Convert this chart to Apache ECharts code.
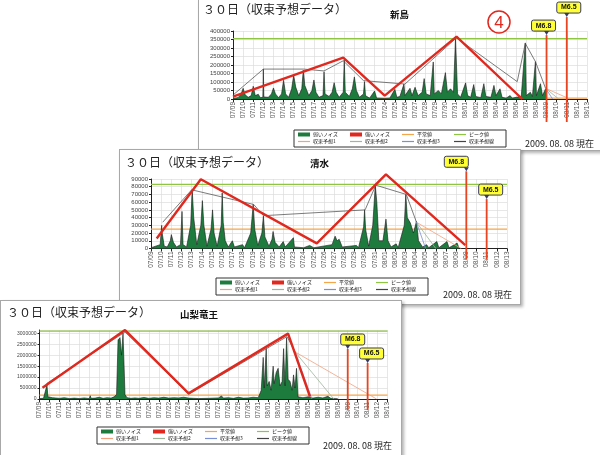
<!DOCTYPE html>
<html>
<head>
<meta charset="utf-8">
<script src="https://cdn.jsdelivr.net/npm/echarts@6/dist/echarts.min.js"></script>
<style>
body { margin: 0; width: 600px; height: 455px; overflow: hidden; background: #fff; position: relative; }
.panel { position: absolute; background: #fff; border: 1px solid #a8a8a8; box-shadow: 2px 2px 3px rgba(0,0,0,0.3); }
</style>
</head>
<body>
<div id="p1" class="panel" style="left:198px;top:-1px;width:404px;height:150px;z-index:1"></div>
<div id="p2" class="panel" style="left:119px;top:149px;width:400px;height:154px;z-index:2"></div>
<div id="p3" class="panel" style="left:0px;top:300px;width:400px;height:160px;z-index:3"></div>
<script>
const dates = ['07/09','07/10','07/11','07/12','07/13','07/14','07/15','07/16','07/17','07/18','07/19','07/20',
  '07/21','07/22','07/23','07/24','07/25','07/26','07/27','07/28','07/29','07/30','07/31','08/01','08/02',
  '08/03','08/04','08/05','08/06','08/07','08/08','08/09','08/10','08/11','08/12','08/13'];

const legendNames = ['弱いノイズ','強いノイズ','平常値','ピーク値','収束予想1','収束予想2','収束予想3','収束予想線'];
const quakeDays = [31, 33];
const quakeLabels = ['M6.8', 'M6.5'];

// 新島
const niijimaNoise = [[0,3000],[0.5,8000],[0.8,30000],[1.0,63000],[1.2,25000],[1.5,10000],[1.8,20000],[2.0,75000],
  [2.2,20000],[2.5,28000],[2.7,8000],[2.95,10000],[3.0,176000],[3.05,12000],[3.5,10000],[3.8,30000],[4.0,65000],
  [4.2,30000],[4.5,8000],[4.8,30000],[5.0,110000],[5.2,30000],[5.5,10000],[5.8,60000],[6.0,140000],[6.2,70000],
  [6.5,20000],[6.8,60000],[6.95,170000],[7.1,80000],[7.3,50000],[7.5,20000],[7.8,50000],[8.0,112000],[8.2,40000],
  [8.5,10000],[8.9,20000],[9.0,160000],[9.1,30000],[9.5,15000],[9.8,40000],[10.0,96000],[10.2,40000],[10.5,10000],
  [10.9,40000],[11.0,230000],[11.1,40000],[11.5,15000],[11.8,60000],[12.0,130000],[12.2,50000],[12.5,10000],
  [12.9,30000],[13.0,102000],[13.1,20000],[13.5,5000],[14.0,47000],[14.2,5000],[15.0,3000],[15.5,5000],[16.0,57000],
  [16.2,10000],[16.5,15000],[16.9,88000],[17.0,20000],[17.5,63000],[17.7,20000],[18.0,69000],[18.3,20000],
  [18.7,40000],[18.9,120000],[19.1,30000],[19.5,20000],[19.8,218000],[19.9,30000],[20.3,50000],[20.6,30000],
  [21.0,155000],[21.2,40000],[21.5,60000],[21.8,40000],[22.0,360000],[22.2,30000],[22.5,10000],[23.0,95000],
  [23.2,20000],[23.5,10000],[23.8,85000],[24.0,15000],[24.5,8000],[24.8,90000],[25.0,15000],[25.5,10000],
  [25.8,80000],[26.0,20000],[26.4,60000],[26.6,10000],[27.0,5000],[27.4,20000],[27.6,5000],[28.0,10000],
  [28.5,15000],[28.9,330000],[29.0,20000],[29.4,40000],[29.6,15000],[29.9,220000],[30.0,20000],[30.4,90000],
  [30.6,20000],[30.9,60000],[31.0,0]];
const niijimaTrend = [[0,23000],[3,176000],[7,176000],[9,165000],[10.9,225000],[12.9,108000],[17,88000],
  [22.1,360000],[28.1,102000],[28.9,327000],[29.9,220000],[30.9,63000]];
const niijimaRed = [[0,14000],[10.9,243000],[15,20000],[22.1,367000],[28.6,0]];
const niijimaFan1 = [[30.9,63000],[33.3,0]];
const niijimaFan2 = [[30.9,63000],[32.2,0]];
const niijimaFan3 = [[30.9,63000],[31.6,0]];

// 清水
const shimizuNoise = [[0,1000],[0.9,5000],[1.05,30000],[1.1,20000],[1.3,3000],[1.6,2000],[1.9,10000],[2.0,18000],
  [2.2,8000],[2.5,2000],[2.9,5000],[3.05,48000],[3.15,5000],[3.5,2000],[3.9,30000],[4.05,76000],[4.2,40000],
  [4.5,5000],[4.9,30000],[5.05,62000],[5.2,30000],[5.5,3000],[5.9,25000],[6.05,50000],[6.2,20000],[6.5,3000],
  [6.9,30000],[7.0,72000],[7.1,34000],[7.3,10000],[7.6,2000],[8.0,10000],[8.2,2000],[9.0,5000],[9.2,1000],
  [9.8,20000],[10.05,57000],[10.2,25000],[10.5,4000],[10.9,20000],[11.05,42000],[11.2,15000],[11.6,3000],
  [11.9,12000],[12.0,22000],[12.2,8000],[12.6,2000],[13.0,9000],[13.2,2000],[14.0,14000],[14.1,2000],[15.0,1000],
  [15.6,4000],[16,1000],[17.8,5000],[18.1,16000],[18.3,10000],[18.5,12000],[18.8,2000],[20.2,4000],[20.4,1000],
  [20.9,28000],[21.0,50000],[21.1,25000],[21.4,3000],[21.8,30000],[22.05,82000],[22.2,60000],[22.4,10000],
  [22.8,10000],[23.1,38000],[23.3,10000],[23.6,2000],[24.1,6000],[24.3,1000],[24.9,30000],[25.05,70000],
  [25.2,40000],[25.5,33000],[25.8,20000],[26.1,35000],[26.3,10000],[26.7,2000],[27.1,5000],[27.3,1000],
  [28.1,9000],[28.3,1000],[29.1,9000],[29.3,1000],[30.1,7000],[30.3,0]];
const shimizuTrend = [[1.15,34000],[4,76000],[10.1,57000],[11.05,42500],[21.05,50000],[22.1,82000],[25.1,70000],[26.1,34000]];
const shimizuRed = [[0.56,13000],[4.9,89600],[16.3,6700],[23.1,96000],[30.9,4500]];
const shimizuFan1 = [[26.1,34000],[30.5,0]];
const shimizuFan2 = [[26.1,34000],[28.0,0]];
const shimizuFan3 = [[26.1,34000],[27.0,0]];

// 山梨竜王
const ryuoNoise = [[0,20000],[0.2,80000],[0.4,30000],[0.6,100000],[0.75,640000],[0.85,100000],[1.0,30000],
  [1.3,60000],[1.5,20000],[2.0,30000],[2.5,60000],[3,20000],[3.5,40000],[4,20000],[4.5,50000],[5,20000],
  [5.1,150000],[5.2,30000],[5.6,40000],[6,80000],[6.4,30000],[6.8,60000],[7.2,40000],[7.5,100000],[7.75,200000],
  [7.9,2700000],[8.1,2800000],[8.25,2000000],[8.4,3000000],[8.6,200000],[8.8,60000],[9.2,30000],[9.6,50000],
  [10,30000],[10.5,70000],[11,30000],[11.5,60000],[12,40000],[12.5,80000],[13,40000],[13.5,60000],[14,50000],
  [14.5,80000],[15,40000],[15.5,30000],[16,20000],[17,30000],[18,50000],[18.3,140000],[18.5,40000],[19,60000],
  [19.5,30000],[20,80000],[20.5,40000],[21,50000],[21.5,80000],[22,60000],[22.3,400000],[22.5,1900000],
  [22.6,500000],[22.8,2300000],[22.9,600000],[23.1,800000],[23.3,400000],[23.5,1500000],[23.6,700000],
  [23.8,1200000],[24.0,1400000],[24.2,600000],[24.4,800000],[24.55,2300000],[24.7,600000],[24.85,2800000],
  [25.0,900000],[25.2,800000],[25.4,400000],[25.55,1100000],[25.7,500000],[25.85,1400000],[26.0,100000],
  [26.5,60000],[27,100000],[27.5,40000],[28,80000],[28.5,50000],[29,120000],[29.3,30000],[30,20000]];
const ryuoTrend = [[0.7,700000],[8.6,3060000],[15,220000],[24.9,2850000],[25.7,2150000]];
const ryuoRed = [[0.3,515000],[8.6,3150000],[15,257000],[25,2985000],[27.2,106000]];
const ryuoFan1 = [[25.7,2150000],[33.9,0]];
const ryuoFan2 = [[25.7,2150000],[29.6,0]];
const ryuoFan3 = [[25.7,2150000],[27.4,0]];

const avgLevel = [5000, 25000, 180000];
const peakLevel = [355000, 83000, 3100000];

const CJK = '"Noto Sans CJK JP", sans-serif';
const SANS = '"Liberation Sans", Arial, sans-serif';

const panels = [
  { id: 'p1', name: '新島', noise: niijimaNoise, trend: niijimaTrend, red: niijimaRed,
    fans: [niijimaFan1, niijimaFan2, niijimaFan3], yMax: 400000, yStep: 50000, yFont: 6,
    grid: [34, 31, 354, 68], title: [4, 3], nameAt: [191, 10], legendAt: [95, 130], stampAt: [326, 139],
    quakeAt: [376000, 482000], quakeShift: [-3, 2], lineBelow: 23, circle: [300, 22] },
  { id: 'p2', name: '清水', noise: shimizuNoise, trend: shimizuTrend, red: shimizuRed,
    fans: [shimizuFan1, shimizuFan2, shimizuFan3], yMax: 90000, yStep: 10000, yFont: 6,
    grid: [31, 29, 356, 69.5], title: [5, 6], nameAt: [190, 9], legendAt: [96, 128], stampAt: [323, 140],
    quakeAt: [100000, 64000], quakeShift: [-10, 4], lineBelow: 11 },
  { id: 'p3', name: '山梨竜王', noise: ryuoNoise, trend: ryuoTrend, red: ryuoRed,
    fans: [ryuoFan1, ryuoFan2, ryuoFan3], yMax: 3150000, yStep: 500000, yFont: 5,
    grid: [38.5, 29, 348, 69], title: [6, 5], nameAt: [179, 9], legendAt: [96, 126], stampAt: [322, 140],
    quakeAt: [2283000, 1644000], quakeShift: [5, 4], lineBelow: 11 }
];

function lineSeries(name, data, color, width, z) {
  return { name, type: 'line', data, symbol: 'none', silent: true,
    lineStyle: { color, width }, itemStyle: { color }, z };
}

// one legend per cell so the two rows line up like the original
function buildLegends(c) {
  const colW = 52;
  return legendNames.map((n, i) => ({
    left: c.legendAt[0] + 4 + (i % 4) * colW, top: c.legendAt[1] + 2 + Math.floor(i / 4) * 7,
    itemWidth: 12, itemHeight: i < 2 ? 4 : 1.2, padding: 0, selectedMode: false,
    data: [{ name: n, icon: 'rect' }],
    textStyle: { fontSize: 5, color: '#222', fontFamily: CJK, padding: [0, 0, 0, -2] }
  }));
}

function buildOption(c, idx) {
  const avg = avgLevel[idx], peak = peakLevel[idx];
  return {
    animation: false,
    title: [
      { text: '３０日（収束予想データ）', left: c.title[0], top: c.title[1], padding: 0,
        textStyle: { fontSize: 12, fontWeight: 'normal', color: '#222', fontFamily: CJK } },
      { text: c.name, left: c.nameAt[0], top: c.nameAt[1], padding: 0,
        textStyle: { fontSize: 9.5, fontWeight: 'bold', color: '#111', fontFamily: CJK } },
      { text: '2009. 08. 08 現在', left: c.stampAt[0], top: c.stampAt[1], padding: 0,
        textStyle: { fontSize: 9, fontWeight: 'normal', color: '#222', fontFamily: CJK } }
    ],
    grid: { left: c.grid[0], top: c.grid[1], width: c.grid[2], height: c.grid[3] },
    xAxis: {
      type: 'value', min: 0, max: 35, interval: 1,
      axisLine: { onZero: false, lineStyle: { color: '#222', width: 1 } },
      axisTick: { length: 3, lineStyle: { color: '#222' } },
      splitLine: { lineStyle: { color: '#dcdcdc', width: 0.7 } },
      axisLabel: { rotate: 90, fontSize: 6.5, margin: 3, color: '#555', fontFamily: SANS,
        formatter: v => dates[v] || '' }
    },
    yAxis: {
      type: 'value', min: 0, max: c.yMax, interval: c.yStep,
      axisLine: { show: true, lineStyle: { color: '#222', width: 1 } },
      axisTick: { show: true, length: 2, lineStyle: { color: '#222' } },
      splitLine: { lineStyle: { color: '#dcdcdc', width: 0.7 } },
      axisLabel: { fontSize: c.yFont, margin: 3, color: '#444', fontFamily: SANS, showMaxLabel: c.yMax % c.yStep === 0,
        formatter: v => String(v) }
    },
    legend: buildLegends(c),
    series: [
      lineSeries('平常値', [[0, avg], [35, avg]], '#f5a54a', 1.2, 1),
      { name: '弱いノイズ', type: 'line', data: c.noise, symbol: 'none', silent: true, z: 2,
        lineStyle: { color: '#1a1a1a', width: 0.6 }, itemStyle: { color: '#1e7b3e' },
        areaStyle: { color: '#1e7b3e', opacity: 1 } },
      { name: '強いノイズ', type: 'line', data: [], itemStyle: { color: '#e0281e' } },
      lineSeries('ピーク値', [[0, peak], [35, peak]], '#8dc63f', 1.2, 3),
      lineSeries('収束予想1', c.fans[0], '#f2a07e', 0.8, 4),
      lineSeries('収束予想2', c.fans[1], '#9db59a', 0.8, 4),
      lineSeries('収束予想3', c.fans[2], '#7b8fd6', 0.8, 4),
      lineSeries('収束予想線', c.trend, '#444', 0.7, 5),
      Object.assign(lineSeries('収束ライン', c.red, '#e0281e', 2.4, 6), { clip: false })
    ]
  };
}

function extraGraphics(chart, c) {
  const out = [];
  // legend frame
  out.push({ type: 'rect', z: 0, shape: { x: c.legendAt[0], y: c.legendAt[1], width: 212, height: 17 },
    style: { fill: '#fff', stroke: '#333', lineWidth: 1 } });
  const baseY = chart.convertToPixel({ xAxisIndex: 0, yAxisIndex: 0 }, [0, 0])[1];
  quakeDays.forEach((d, i) => {
    const [x, yTop] = chart.convertToPixel({ xAxisIndex: 0, yAxisIndex: 0 }, [d, c.quakeAt[i]]);
    const bx = x + c.quakeShift[i];
    out.push({ type: 'line', z: 50, shape: { x1: x, y1: yTop, x2: x, y2: baseY + c.lineBelow },
      style: { stroke: '#e8441f', lineWidth: 1.8 } });
    out.push({ type: 'polygon', z: 51, shape: { points: [[x - 2.5, yTop - 4], [x + 2.5, yTop - 4], [x, yTop]] },
      style: { fill: '#3a3a6a' } });
    out.push({ type: 'rect', z: 52, shape: { x: bx - 12, y: yTop - 15, width: 24, height: 11, r: 2 },
      style: { fill: '#ffff33', stroke: '#3a3a6a', lineWidth: 1 } });
    out.push({ type: 'text', z: 53, x: bx, y: yTop - 9.5,
      style: { text: quakeLabels[i], font: 'bold 7px "Liberation Sans", Arial', fill: '#111',
        align: 'center', verticalAlign: 'middle' } });
  });
  if (c.circle) {
    out.push({ type: 'circle', z: 54, shape: { cx: c.circle[0], cy: c.circle[1], r: 11 },
      style: { fill: 'none', stroke: '#e0281e', lineWidth: 1.5 } });
    out.push({ type: 'text', z: 55, x: c.circle[0], y: c.circle[1] + 1,
      style: { text: '4', font: '17px "Liberation Sans", Arial', fill: '#e0281e', align: 'center', verticalAlign: 'middle' } });
  }
  return out;
}

panels.forEach((c, idx) => {
  const chart = echarts.init(document.getElementById(c.id), null, { renderer: 'canvas' });
  chart.setOption(buildOption(c, idx));
  chart.setOption({ graphic: extraGraphics(chart, c) });
});
</script>
</body>
</html>
